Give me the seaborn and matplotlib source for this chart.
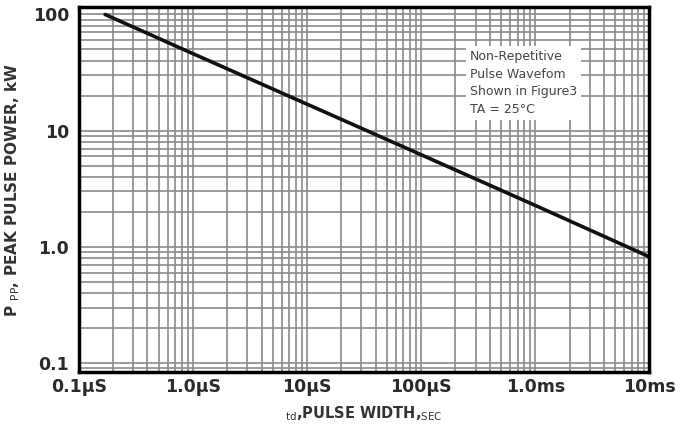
import numpy as np
import pandas as pd
import matplotlib
matplotlib.use('Agg')
import matplotlib.pyplot as plt
import seaborn as sns
from matplotlib.ticker import LogLocator, NullFormatter

# Pulse width (s) and peak pulse power (kW)
pulse_width = [1.7e-7, 1e-6, 1e-5, 1e-4, 1e-3, 1e-2]
peak_power = [100, 46, 16.9, 6.2, 2.27, 0.82]

x_ticks = [1e-7, 1e-6, 1e-5, 1e-4, 1e-3, 1e-2]
x_labels = ['0.1µS', '1.0µS', '10µS', '100µS', '1.0ms', '10ms']
y_ticks = [0.1, 1, 10, 100]
y_labels = ['0.1', '1.0', '10', '100']

note = 'Non-Repetitive\nPulse Wavefom\nShown in Figure3\nTA = 25°C'

df = pd.DataFrame({'tp': pulse_width, 'ppp': peak_power})

sns.set_theme(style='white')
plt.rcParams['font.family'] = ['DejaVu Sans']

fig, ax = plt.subplots(figsize=(6.85, 4.37), dpi=100)
fig.subplots_adjust(left=0.115, right=0.948, top=0.985, bottom=0.148)

ax.set_xscale('log')
ax.set_yscale('log')
ax.set_xlim(1e-7, 1e-2)
ax.set_ylim(0.083, 117)

# grid
ax.xaxis.set_minor_locator(LogLocator(base=10, subs=np.arange(2, 10)))
ax.yaxis.set_minor_locator(LogLocator(base=10, subs=np.arange(2, 10)))
ax.xaxis.set_minor_formatter(NullFormatter())
ax.yaxis.set_minor_formatter(NullFormatter())
ax.grid(True, which='both', color='#8a8a8a', linewidth=1.2)

sns.lineplot(data=df, x='tp', y='ppp', ax=ax, color='#111111', linewidth=2.6)

ax.set_xticks(x_ticks)
ax.set_xticklabels(x_labels, fontsize=12.5, fontweight='bold', color='#2a2a2a')
ax.set_yticks(y_ticks)
ax.set_yticklabels(y_labels, fontsize=12.5, fontweight='bold', color='#2a2a2a')
ax.tick_params(axis='x', which='both', length=0, pad=4)
ax.tick_params(axis='y', which='both', length=0, pad=7)

ax.set_xlabel(r'$_{\rm td}$,PULSE WIDTH,$_{\rm SEC}$', fontsize=10.5, fontweight='bold',
              color='#333333', labelpad=6)
ax.set_ylabel(r'P $_{\rm PP}$, PEAK PULSE POWER, kW', fontsize=11, fontweight='bold',
              color='#333333', labelpad=8)

for s in ax.spines.values():
    s.set_visible(True)
    s.set_color('black')
    s.set_linewidth(2.5)

ax.text(0.685, 0.88, note, transform=ax.transAxes, fontsize=9, color='#444444',
        va='top', ha='left', linespacing=1.45,
        bbox=dict(facecolor='white', edgecolor='none', pad=3))

fig.savefig('out.png', dpi=100)
